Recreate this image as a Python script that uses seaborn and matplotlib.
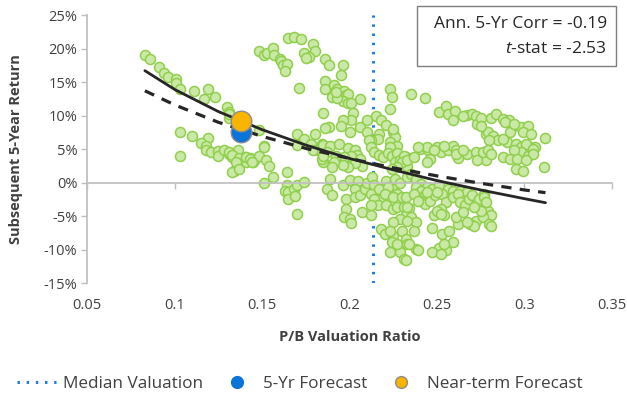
import matplotlib
matplotlib.use('Agg')
import matplotlib.pyplot as plt
from matplotlib.lines import Line2D
from matplotlib.patches import Rectangle
from matplotlib.ticker import FuncFormatter
import seaborn as sns
import pandas as pd

# P/B ratio vs subsequent 5-year return (%), grouped by cloud region
upper_left = [(0.083, 19.1), (0.086, 18.4), (0.091, 17.2), (0.094, 16.3), (0.096, 15.7), (0.101, 15.5),
              (0.101, 14.8), (0.103, 14.0), (0.111, 13.7), (0.119, 14.0), (0.117, 12.4), (0.123, 12.8),
              (0.130, 11.3), (0.131, 10.6), (0.131, 9.6), (0.131, 10.3)]
lower_left = [(0.103, 7.6), (0.110, 6.9), (0.119, 6.6), (0.115, 5.9), (0.118, 5.4), (0.118, 4.9), (0.121, 4.6),
              (0.125, 4.7), (0.125, 3.9), (0.128, 4.9), (0.131, 4.2), (0.103, 4.0), (0.133, 3.8), (0.136, 4.8),
              (0.136, 3.5), (0.134, 1.7), (0.136, 2.3), (0.140, 3.8), (0.141, 3.0), (0.143, 3.7), (0.145, 3.0),
              (0.146, 3.5), (0.148, 4.0), (0.151, 5.4), (0.152, 3.4), (0.154, 2.5), (0.151, 0.0), (0.156, 0.9),
              (0.131, 4.6), (0.133, 4.1), (0.137, 3.6), (0.141, 3.8), (0.143, 3.5), (0.135, 3.0), (0.133, 1.6),
              (0.137, 2.1), (0.144, 3.0), (0.148, 7.8), (0.151, 5.3)]
top_cluster = [(0.148, 19.7), (0.151, 19.0), (0.153, 19.4), (0.156, 20.1), (0.157, 19.1), (0.160, 18.5),
               (0.161, 18.2), (0.162, 17.5), (0.164, 17.7), (0.163, 16.7), (0.165, 21.6), (0.168, 21.7),
               (0.172, 21.5), (0.179, 20.7), (0.180, 19.7), (0.174, 19.3), (0.177, 18.7), (0.175, 18.6),
               (0.186, 18.5), (0.188, 17.5), (0.196, 17.5), (0.195, 16.0), (0.171, 14.1), (0.186, 15.2),
               (0.186, 14.0)]
mid_cluster = [(0.191, 14.5), (0.193, 14.0), (0.197, 13.7), (0.198, 13.0), (0.199, 13.2), (0.196, 12.2),
               (0.199, 11.9), (0.201, 11.9), (0.206, 12.4), (0.190, 12.7), (0.193, 12.6), (0.192, 13.5),
               (0.223, 14.0), (0.224, 12.7), (0.223, 11.0), (0.235, 13.2), (0.243, 12.6), (0.185, 10.4),
               (0.202, 10.4), (0.201, 9.3), (0.196, 9.4), (0.195, 8.4), (0.200, 7.6), (0.188, 8.3),
               (0.186, 8.1), (0.206, 8.3), (0.210, 9.3), (0.210, 7.6), (0.215, 10.0), (0.218, 9.4),
               (0.221, 8.6), (0.217, 7.3), (0.216, 6.5), (0.225, 7.5), (0.226, 6.8), (0.223, 6.0),
               (0.225, 8.0), (0.227, 5.5), (0.223, 5.3), (0.212, 6.3), (0.170, 7.3), (0.174, 6.5),
               (0.180, 7.3), (0.184, 5.8), (0.178, 5.8), (0.182, 4.8), (0.179, 4.8), (0.184, 4.5),
               (0.170, 5.6), (0.185, 3.0), (0.184, 3.5)]
near_zero_left = [(0.164, 1.6), (0.164, -0.3), (0.163, -1.2), (0.165, -1.4), (0.168, -0.9), (0.170, -0.3),
                  (0.174, 0.1), (0.165, -2.4), (0.169, -2.0), (0.170, -4.7), (0.187, -0.9)]
dense_cluster = [(0.185, 5.6), (0.189, 5.5), (0.194, 5.8), (0.199, 5.1), (0.203, 4.8), (0.204, 4.1), (0.201, 3.9),
                 (0.197, 3.8), (0.192, 4.0), (0.187, 4.6), (0.185, 3.9), (0.211, 6.3), (0.212, 5.3), (0.214, 4.5),
                 (0.217, 4.1), (0.219, 3.8), (0.222, 4.4), (0.224, 4.0), (0.227, 4.4), (0.226, 3.1), (0.229, 3.3),
                 (0.232, 3.8), (0.233, 2.5), (0.206, 3.5), (0.207, 2.5), (0.203, 2.9), (0.199, 2.3), (0.196, 2.6),
                 (0.191, 3.0), (0.190, 2.3), (0.189, 0.6), (0.190, -1.9), (0.196, -0.4), (0.200, 0.4), (0.205, 0.3),
                 (0.203, -0.9), (0.198, -2.4), (0.203, -2.2), (0.206, -1.9), (0.209, -0.9), (0.210, 0.0),
                 (0.213, 0.8), (0.214, -0.4), (0.212, -1.7), (0.217, -0.9), (0.218, -2.4), (0.214, -2.4),
                 (0.221, 0.3), (0.222, -1.4), (0.225, -0.4), (0.226, 0.6), (0.229, 0.0), (0.227, -1.7),
                 (0.231, 4.0), (0.230, 3.0), (0.227, 2.3), (0.224, 2.0), (0.233, 0.9), (0.222, -0.7),
                 (0.220, -1.7), (0.225, -2.2), (0.230, -2.2)]
below_median = [(0.198, -3.9), (0.197, -5.2), (0.200, -5.4), (0.201, -6.0), (0.207, -4.4), (0.212, -4.9),
                (0.216, -3.4), (0.212, -3.4), (0.221, -3.4), (0.225, -3.9), (0.227, -3.7), (0.231, -3.7),
                (0.234, -3.8), (0.232, -4.9), (0.229, -5.4), (0.225, -5.9), (0.218, -6.9), (0.220, -7.7),
                (0.225, -7.9), (0.230, -7.2), (0.232, -8.4), (0.224, -8.9), (0.223, -10.3), (0.229, -10.4),
                (0.231, -11.4), (0.223, -7.2), (0.227, -9.1), (0.233, -9.1), (0.238, -9.9)]
right_upper = [(0.251, 10.6), (0.255, 11.5), (0.256, 10.3), (0.260, 10.7), (0.259, 9.3), (0.267, 10.1),
               (0.270, 10.3), (0.272, 10.0), (0.273, 8.8), (0.275, 9.7), (0.278, 7.3), (0.265, 10.0),
               (0.281, 9.7), (0.284, 10.3), (0.288, 9.5), (0.291, 9.3), (0.293, 8.3), (0.292, 7.5),
               (0.298, 8.3), (0.302, 8.5), (0.299, 7.5), (0.304, 7.3), (0.279, 7.5), (0.282, 7.0),
               (0.285, 6.3), (0.290, 6.0), (0.295, 5.8), (0.298, 5.3), (0.302, 5.5), (0.306, 5.3),
               (0.312, 6.7), (0.289, 9.0), (0.294, 8.8), (0.280, 6.4), (0.288, 6.5), (0.301, 5.8),
               (0.305, 5.0), (0.298, 4.5), (0.302, 4.0), (0.305, 4.3), (0.294, 4.8), (0.288, 3.8),
               (0.292, 3.5), (0.296, 3.5), (0.301, 3.3), (0.277, 4.5), (0.280, 4.3), (0.278, 3.3),
               (0.295, 2.0), (0.299, 1.8), (0.311, 2.3), (0.275, 8.5)]
right_band = [(0.240, 5.0), (0.245, 4.9), (0.246, 3.5), (0.250, 5.3), (0.252, 4.5), (0.256, 4.8), (0.259, 5.5),
              (0.261, 4.9), (0.262, 3.7), (0.267, 4.3), (0.272, 4.5), (0.273, 3.4), (0.276, 4.5), (0.279, 4.8),
              (0.233, 3.4), (0.237, 3.8), (0.244, 5.3), (0.248, 4.8), (0.254, 5.5), (0.261, 4.3), (0.265, 4.8),
              (0.244, 3.0), (0.239, 5.3), (0.281, 4.2)]
right_lower = [(0.235, 1.3), (0.238, 0.6), (0.241, -0.2), (0.244, -0.7), (0.247, -0.9), (0.251, -0.4),
               (0.256, -0.9), (0.259, -1.2), (0.263, -1.2), (0.267, -1.4), (0.238, -0.6), (0.241, -1.2),
               (0.243, -1.9), (0.240, -2.7), (0.243, -3.2), (0.246, -2.7), (0.249, -1.9), (0.253, -1.7),
               (0.255, -2.9), (0.259, -2.2), (0.262, -1.7), (0.263, -2.9), (0.266, -3.4), (0.268, -2.4),
               (0.270, -1.9), (0.272, -3.2), (0.274, -2.4), (0.277, -1.7), (0.276, -4.2), (0.272, -5.7),
               (0.269, -6.2), (0.262, -6.2), (0.254, -4.9), (0.252, -3.9), (0.248, -4.9), (0.247, -6.7),
               (0.253, -7.7), (0.257, -7.2), (0.259, -8.9), (0.251, -9.7), (0.247, -10.4), (0.255, -10.1),
               (0.239, -10.1), (0.234, -9.1), (0.232, -11.6), (0.235, -5.2), (0.238, -5.9), (0.233, -3.7),
               (0.232, -2.2), (0.237, -1.7), (0.239, -2.7), (0.244, -1.4), (0.250, -1.4), (0.261, -5.2),
               (0.265, -4.4), (0.233, -5.7), (0.237, -7.2), (0.250, -4.2), (0.254, -9.1), (0.277, -2.2),
               (0.279, -4.2), (0.281, -4.9), (0.276, -5.2), (0.280, -6.2), (0.278, -2.9), (0.275, -4.2),
               (0.271, -6.4), (0.267, -5.9), (0.281, -6.4), (0.271, -3.7), (0.252, -4.7), (0.252, -10.6)]

# fitted curves (read at a few x values)
fit_x = [0.083, 0.10, 0.125, 0.15, 0.175, 0.20, 0.225, 0.25, 0.275, 0.30, 0.312]
fit_solid = [16.7, 13.9, 10.6, 7.9, 5.6, 3.6, 1.9, 0.3, -1.1, -2.4, -3.0]
fit_dashed = [13.7, 11.6, 9.0, 6.9, 5.1, 3.6, 2.2, 1.0, -0.1, -1.1, -1.5]

median_pb = 0.2135
current_pb = 0.138
forecast_5yr = 7.6
forecast_near = 9.25

corr_text = 'Ann. 5-Yr Corr = -0.19'
tstat_text = '$t$-stat = -2.53'

points = upper_left + lower_left + top_cluster + mid_cluster + near_zero_left + dense_cluster \
    + below_median + right_upper + right_band + right_lower
df = pd.DataFrame(points, columns=['pb', 'ret'])

sns.set_theme(style='white')
plt.rcParams['font.family'] = ['Open Sans', 'DejaVu Sans']
plt.rcParams['mathtext.fontset'] = 'custom'
plt.rcParams['mathtext.it'] = 'Open Sans:italic'
plt.rcParams['mathtext.rm'] = 'Open Sans'

text_col = '#404040'
axis_col = '#bfbfbf'

fig, ax = plt.subplots(figsize=(6.27, 3.96), dpi=100)
fig.subplots_adjust(left=0.139, right=0.976, top=0.962, bottom=0.285)

ax.axvline(median_pb, color='#1f7fe0', lw=2.2, linestyle=(0, (0.8, 2.2)), zorder=1.5)

sns.scatterplot(data=df, x='pb', y='ret', s=52, color='#cbe9a6', edgecolor='#90cf4c',
                linewidth=1.1, ax=ax, zorder=2, legend=False)

sns.lineplot(x=fit_x, y=fit_solid, color='#262626', lw=2, ax=ax, zorder=3)
sns.lineplot(x=fit_x, y=fit_dashed, color='#262626', lw=2.3, linestyle=(0, (3.2, 2.6)), ax=ax, zorder=3)

sns.scatterplot(x=[current_pb], y=[forecast_5yr], s=220, color='#0a74d8', edgecolor='#8c8c8c',
                linewidth=1, ax=ax, zorder=4, legend=False)
sns.scatterplot(x=[current_pb], y=[forecast_near], s=220, color='#f9b400', edgecolor='#8c8c8c',
                linewidth=1, ax=ax, zorder=5, legend=False)

ax.set_xlim(0.05, 0.35)
ax.set_ylim(-15, 25)
ax.set_xticks([0.05, 0.10, 0.15, 0.20, 0.25, 0.30, 0.35])
ax.set_xticklabels(['0.05', '0.1', '0.15', '0.2', '0.25', '0.3', '0.35'])
ax.set_yticks(range(-15, 26, 5))
ax.yaxis.set_major_formatter(FuncFormatter(lambda v, p: f'{v:.0f}%'))

for s in ['top', 'right']:
    ax.spines[s].set_visible(False)
ax.spines['left'].set_color(axis_col)
ax.spines['bottom'].set_color(axis_col)
ax.spines['bottom'].set_position(('data', 0))

# x tick labels sit at the bottom of the plot though the axis line is at 0%
ax_h_px = fig.get_figheight() * fig.dpi * (0.962 - 0.285)
pad_pt = ax_h_px * (0 - (-15)) / 40 * 72 / fig.dpi + 7
ax.tick_params(axis='x', direction='out', length=4, width=1, color=axis_col, labelsize=10.5,
               labelcolor=text_col, pad=pad_pt, bottom=True)
ax.tick_params(axis='y', direction='out', length=4, width=1, color=axis_col, labelsize=10.5,
               labelcolor=text_col, left=True, pad=3)

ax.set_xlabel('P/B Valuation Ratio', fontsize=10.5, fontweight='bold', color=text_col)
ax.set_ylabel('Subsequent 5-Year Return', fontsize=10.5, fontweight='bold', color=text_col)
ax.xaxis.set_label_coords(0.5, -0.175)
ax.yaxis.set_label_coords(-0.122, 0.5)

# stats box
fig.patches.append(Rectangle((417 / 627, 1 - 66 / 396), 199 / 627, 60 / 396, transform=fig.transFigure,
                             fill=False, edgecolor='#7f7f7f', lw=1))
fig.text(607 / 627, 1 - 24 / 396, corr_text, ha='right', va='center', fontsize=12.5, color='#262626')
fig.text(607 / 627, 1 - 49 / 396, tstat_text, ha='right', va='center', fontsize=12.5, color='#262626')

handles = [
    Line2D([], [], color='#1f7fe0', lw=2.2, linestyle=(0, (0.8, 2.2))),
    Line2D([], [], color='#0a74d8', marker='o', linestyle='none', markersize=8.5),
    Line2D([], [], color='#f9b400', marker='o', linestyle='none', markersize=8.5, markeredgecolor='#8c8c8c'),
]
fig.legend(handles, ['Median Valuation', '5-Yr Forecast', 'Near-term Forecast'], loc='center',
           bbox_to_anchor=(300 / 627, 1 - 384 / 396), ncol=3, frameon=False, fontsize=12.3, handlelength=2.3,
           columnspacing=0.8, handletextpad=0.4, labelcolor=text_col)

fig.savefig('out.png', dpi=100)
